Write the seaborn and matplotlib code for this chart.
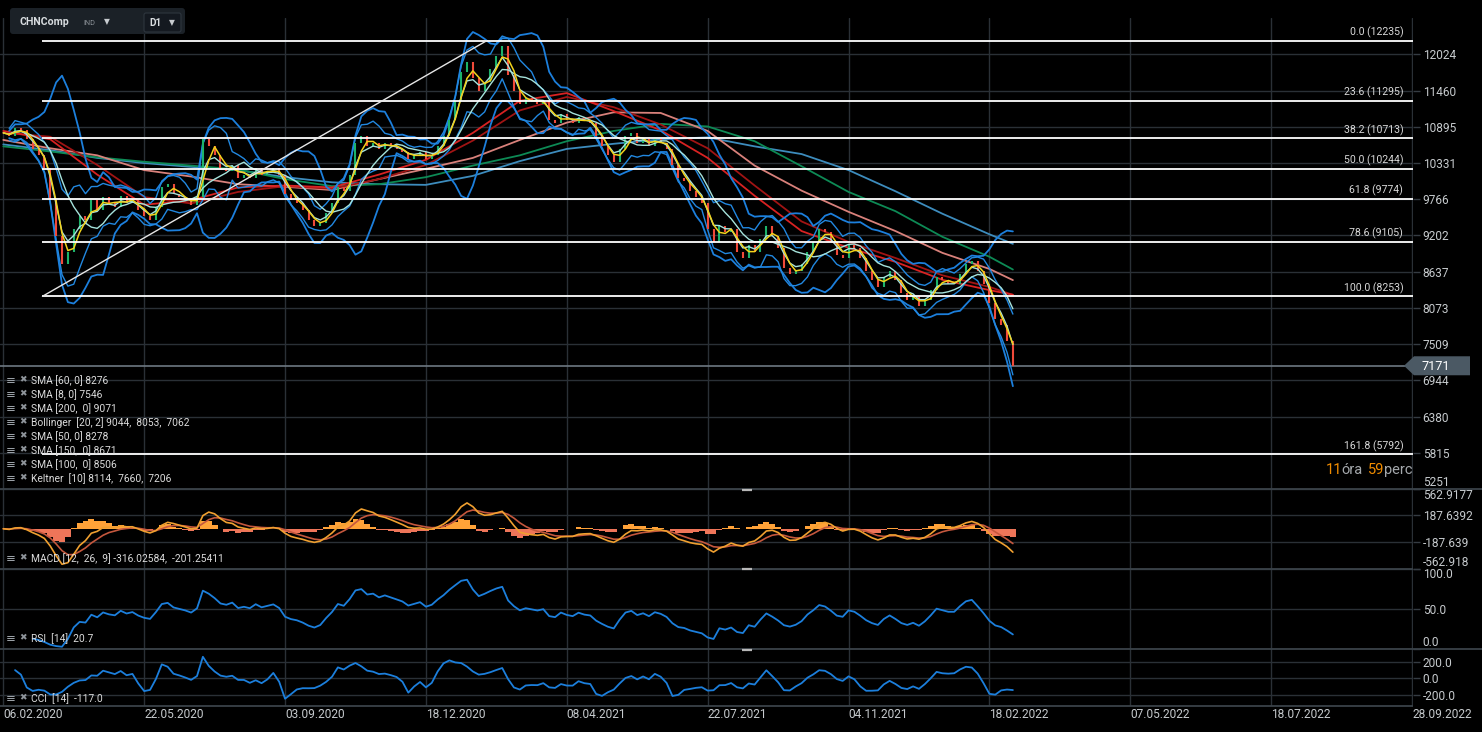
import numpy as np
import pandas as pd
import matplotlib.pyplot as plt
from matplotlib.patches import FancyBboxPatch, Polygon
import seaborn as sns

W, H = 1482, 732

# ============================================================
# DATA
# ============================================================

STEP = 3  # one close every 3 trading days

CLOSE = [
    10800, 10750, 10880, 10850, 10700, 10550, 10450, 10250, 9750, 9200,
    8750, 8950, 9300, 9500, 9450, 9750, 9600, 9800, 9700, 9650,
    9820, 9700, 9750, 9600, 9500, 9450, 9650, 9950, 10000, 9850,
    9800, 9750, 9680, 9800, 10700, 10600, 10450, 10250, 10200, 10300,
    10100, 10150, 10100, 10250, 10150, 10200, 10250, 10150, 9850, 9750,
    9700, 9600, 9450, 9350, 9400, 9550, 9700, 9950, 9900, 10150,
    10650, 10750, 10600, 10650, 10550, 10650, 10600, 10550, 10500, 10400,
    10450, 10500, 10400, 10450, 10600, 10750, 11000, 11300, 11750, 11900,
    11650, 11450, 11600, 11800, 12000, 12150, 11700, 11450, 11250, 11350,
    11300, 11250, 11300, 11000, 10950, 11100, 11000, 10950, 11050, 10980,
    10950, 10750, 10600, 10450, 10350, 10550, 10750, 10800, 10650, 10700,
    10600, 10700, 10650, 10550, 10300, 10100, 10050, 9900, 9800, 9700,
    9300, 9100, 9350, 9250, 9300, 8950, 8850, 9050, 8950, 9150,
    9350, 9200, 9000, 8700, 8600, 8650, 8750, 8950, 9100, 9300,
    9250, 9100, 8900, 8850, 9050, 9000, 8850, 8650, 8500, 8400,
    8550, 8650, 8500, 8300, 8200, 8250, 8100, 8200, 8350, 8550,
    8500, 8450, 8450, 8600, 8750, 8800, 8650, 8450, 8150, 7900,
    7800, 7550, 7171,
]

SMA_BARS = list(range(0, 505, 24)) + [516]
SMA50 = [10830, 10700, 10150, 9680, 9750, 9950, 9980, 9950, 10150, 10380, 10800, 11300,
         11420, 11140, 10840, 10410, 9820, 9270, 9010, 8790, 8510, 8350, 8278]
SMA60 = [10800, 10740, 10300, 9800, 9700, 9880, 9970, 9930, 10080, 10300, 10680, 11150,
         11360, 11200, 10930, 10560, 9980, 9420, 9100, 8850, 8580, 8400, 8276]
SMA100 = [10690, 10560, 10450, 10220, 10120, 10000, 9960, 9910, 10080, 10240, 10410, 10690,
          10960, 11120, 11110, 10830, 10290, 9900, 9570, 9270, 8930, 8680, 8506]
SMA150 = [10590, 10510, 10420, 10350, 10290, 10230, 10080, 9970, 10000, 10110, 10290, 10450,
          10670, 10830, 10940, 10900, 10670, 10280, 9880, 9580, 9180, 8870, 8671]
SMA200 = [10620, 10530, 10410, 10330, 10270, 10220, 10110, 10030, 10000, 9990, 10130, 10360,
          10550, 10630, 10700, 10730, 10590, 10470, 10220, 9890, 9540, 9220, 9071]

FIB_LEVELS = ["0.0", "23.6", "38.2", "50.0", "61.8", "78.6", "100.0", "161.8"]
FIB_VALUES = [12235, 11295, 10713, 10244, 9774, 9105, 8253, 5792]
FIB_BARS = [20, 247]

PRICE_TICKS = [5251, 5815, 6380, 6944, 7509, 8073, 8637, 9202, 9766, 10331, 10895, 11460, 12024]
MACD_TICKS = [-562.918, -187.639, 187.6392, 562.9177]
MACD_LABELS = ["-562.918", "-187.639", "187.6392", "562.9177"]
RSI_TICKS = [0, 50, 100]
CCI_TICKS = [-200, 0, 200]

DATE_STEP = 72
DATE_LABELS = ["06.02.2020", "22.05.2020", "03.09.2020", "18.12.2020", "08.04.2021",
               "22.07.2021", "04.11.2021", "18.02.2022", "07.05.2022", "18.07.2022",
               "28.09.2022"]

LEGEND_ROWS = [
    "SMA [60, 0] 8276",
    "SMA [8, 0] 7546",
    "SMA [200,  0] 9071",
    "Bollinger  [20, 2] 9044,  8053,  7062",
    "SMA [50, 0] 8278",
    "SMA [150,  0] 8671",
    "SMA [100,  0] 8506",
    "Keltner  [10] 8114,  7660,  7206",
]
MACD_TEXT = "MACD [12,  26,  9] -316.02584,  -201.25411"
RSI_TEXT = "RSI  [14]  20.7"
CCI_TEXT = "CCI  [14]  -117.0"

# ============================================================
# INDICATORS (from the sampled closes)
# ============================================================

bars = np.arange(len(CLOSE)) * STEP
close = pd.Series(CLOSE, dtype=float)

sma8 = close.rolling(3, min_periods=1).mean()
bb_mid = close.rolling(8, min_periods=2).mean()
bb_sd = close.rolling(8, min_periods=2).std(ddof=0)
# sampled closes miss the daily noise, so the bands get a wider factor
bb_up, bb_lo = bb_mid + 2.3 * bb_sd, bb_mid - 2.3 * bb_sd
kel_mid = close.ewm(span=10 / STEP, adjust=False).mean()
rng = close.diff().abs().rolling(5, min_periods=1).mean()
kel_up, kel_lo = kel_mid + 1.85 * rng, kel_mid - 1.85 * rng

fast = close.ewm(span=12 / STEP, adjust=False).mean()
slow = close.ewm(span=26 / STEP, adjust=False).mean()
macd = fast - slow
signal = macd.ewm(span=5, adjust=False).mean()
hist = macd - signal

delta = close.diff()
gain = delta.clip(lower=0).ewm(alpha=0.1, adjust=False, min_periods=5).mean()
loss = (-delta.clip(upper=0)).ewm(alpha=0.1, adjust=False, min_periods=5).mean()
rsi = 100 - 100 / (1 + gain / loss)

cci_mean = close.rolling(10, min_periods=3).mean()
cci_mad = close.rolling(10, min_periods=3).apply(lambda w: np.abs(w - w.mean()).mean(), raw=True)
cci = (close - cci_mean) / (0.015 * cci_mad)

# ============================================================
# STYLE
# ============================================================

sns.set_theme(style="dark", rc={
    "figure.facecolor": "black", "axes.facecolor": "black",
    "axes.edgecolor": "black", "grid.color": "#2a3036",
})
plt.rcParams["font.family"] = ["Roboto", "DejaVu Sans"]

GRID = "#2a3036"
TXT = "#c6cacd"
UP, DOWN = "#1db36a", "#f04a3a"
BLUE = "#1c7fdc"
PALE = "#a6e3dc"

fig = plt.figure(figsize=(W / 100, H / 100), dpi=100)


def panel(y0, y1):
    return fig.add_axes([0, 1 - y1 / H, 1413 / W, (y1 - y0) / H])


ax = panel(18, 489)
ax_macd = panel(489, 568.5)
ax_rsi = panel(568.5, 649)
ax_cci = panel(649, 706)


def line(a, x, y, color, lw, z=3):
    sns.lineplot(x=np.asarray(x), y=np.asarray(y, dtype=float), ax=a, color=color,
                 linewidth=lw, estimator=None, sort=False, legend=False, zorder=z)


# ============================================================
# MAIN PANEL
# ============================================================

c = np.asarray(CLOSE, dtype=float)
opens = np.r_[c[0], c[:-1]]
up = c >= opens

line(ax, SMA_BARS, SMA200, "#3d8cbd", 1.3)
line(ax, SMA_BARS, SMA150, "#0d8a55", 1.3)
line(ax, SMA_BARS, SMA100, "#d9817b", 1.3)
line(ax, SMA_BARS, SMA60, "#a01414", 1.3)
line(ax, SMA_BARS, SMA50, "#d82222", 1.3)
for s in (bb_up, bb_lo):
    line(ax, bars, s, BLUE, 1.3)
for s in (kel_up, kel_lo):
    line(ax, bars, s, "#2288e0", 1.0)

ax.vlines(bars[up], opens[up], c[up], color=UP, lw=1.5, zorder=3.5)
ax.vlines(bars[~up], opens[~up], c[~up], color=DOWN, lw=1.5, zorder=3.5)

line(ax, bars, bb_mid, PALE, 1.0, z=4)
line(ax, bars, kel_mid, PALE, 1.0, z=4)
line(ax, bars, sma8, "#f2d21b", 1.1, z=4)

XMAX = 720.5
ax.hlines(FIB_VALUES, FIB_BARS[0], XMAX, color="white", lw=1.3, zorder=5)
ax.plot(FIB_BARS, [FIB_VALUES[6], FIB_VALUES[0]], color="#e6e6e6", lw=1.0, zorder=5)
for lvl, val in zip(FIB_LEVELS, FIB_VALUES):
    ax.annotate(f"{lvl} ({val})", xy=(1.0, val), xycoords=("axes fraction", "data"),
                xytext=(-7, 2), textcoords="offset points", ha="right", va="bottom",
                fontsize=7.6, color="#d8d8d8", zorder=6)
ax.axhline(CLOSE[-1], color="#6d7881", lw=1.2, zorder=1)

ax.set_ylim(5251, 12590)
ax.set_yticks(PRICE_TICKS)
ax.set_yticklabels([str(v) for v in PRICE_TICKS])

# ============================================================
# MACD / RSI / CCI
# ============================================================

ax_macd.bar(bars, hist, width=STEP, color=np.where(hist >= 0, "#ffa238", "#ee7559"),
            linewidth=0, zorder=2)
line(ax_macd, bars, signal, "#c4573d", 1.2)
line(ax_macd, bars, macd, "#f0a030", 1.2)
ax_macd.set_ylim(MACD_TICKS[0], MACD_TICKS[-1])
ax_macd.set_yticks(MACD_TICKS)
ax_macd.set_yticklabels(MACD_LABELS)

line(ax_rsi, bars, rsi, BLUE, 1.3)
ax_rsi.set_ylim(0, 100)
ax_rsi.set_yticks(RSI_TICKS)
ax_rsi.set_yticklabels([f"{v:.1f}" for v in RSI_TICKS])

line(ax_cci, bars, cci, BLUE, 1.3)
ax_cci.set_ylim(-339, 358)
ax_cci.set_yticks(CCI_TICKS)
ax_cci.set_yticklabels([f"{v:.1f}" for v in CCI_TICKS])

for a in (ax, ax_macd, ax_rsi, ax_cci):
    a.set_xlim(-1.69, XMAX)
    a.set_xticks(np.arange(len(DATE_LABELS)) * DATE_STEP)
    a.set_xlabel("")
    a.set_ylabel("")
    a.grid(True, color=GRID, lw=1)
    a.set_axisbelow(True)
    for sp in a.spines.values():
        sp.set_visible(False)
    a.yaxis.tick_right()
    a.tick_params(axis="y", length=5, width=1, color="#353c43", pad=2,
                  labelsize=8.6, labelcolor=TXT)
    a.tick_params(axis="x", length=0, labelbottom=False)

ax_cci.tick_params(axis="x", labelbottom=True, labelsize=8.6, labelcolor=TXT, pad=1.5)
ax_cci.set_xticklabels(DATE_LABELS, ha="left")

ax.get_yticklabels()[0].set_va("bottom")
for a in (ax_macd, ax_rsi):
    labs = a.get_yticklabels()
    labs[0].set_va("bottom")
    labs[-1].set_va("top")

# ============================================================
# OVERLAY (header, legends, price tag, timer)
# ============================================================

ov = fig.add_axes([0, 0, 1, 1], zorder=10)
ov.set_xlim(0, W)
ov.set_ylim(H, 0)
ov.axis("off")
ov.patch.set_alpha(0)

ov.hlines([489, 568.5, 649], 0, 1413, color="#3a4249", lw=1.3)
ov.hlines([489, 649], 1413, 1482, color="#3a4249", lw=1.3)
ov.hlines(706, 0, 1413, color="#3a4249", lw=1.3)
ov.hlines([489.5, 569, 649.5], 742, 752, color="#b8b8b8", lw=1.6)

ov.add_patch(FancyBboxPatch((10, 8), 175, 26, boxstyle="round,pad=0,rounding_size=3",
                            fc="#1b2127", ec="none"))
ov.add_patch(FancyBboxPatch((144, 13), 37, 19, boxstyle="round,pad=0,rounding_size=2",
                            fc="#141920", ec="#2e363e", lw=0.8))
ov.text(20, 22, "CHNComp", fontsize=7.6, fontweight="bold", color="#d9dde0", va="center")
ov.text(83, 23.5, "IND", fontsize=5.2, color="#8a9096", va="center")
ov.text(107, 21.5, "▼", fontsize=5.5, color="#c8ccd0", va="center", ha="center")
ov.text(149, 22.5, "D1", fontsize=7.2, fontweight="bold", color="#d9dde0", va="center")
ov.text(172, 23, "▼", fontsize=5.5, color="#c8ccd0", va="center", ha="center")


def legend_row(y, text):
    ov.text(6, y, "≡", fontsize=8.5, color="#9aa0a6", va="center")
    ov.text(19, y - 1, "✖", fontsize=6.5, color="#8f959b", va="center")
    ov.text(31, y, text, fontsize=7.4, color="#dcdcdc", va="center")


for i, txt in enumerate(LEGEND_ROWS):
    legend_row(380.5 + 14 * i, txt)
legend_row(558.5, MACD_TEXT)
legend_row(638.3, RSI_TEXT)
legend_row(698.3, CCI_TEXT)

y_tag = H - ax.transData.transform((0, CLOSE[-1]))[1]
ov.add_patch(Polygon([(1404, y_tag), (1414, y_tag - 9.5), (1470, y_tag - 9.5),
                      (1470, y_tag + 9.5), (1414, y_tag + 9.5)], closed=True,
                     fc="#4b5964", ec="none"))
ov.text(1422, y_tag + 0.5, f"{CLOSE[-1]}", fontsize=9.2, color="white", va="center")

for x, s, col in [(1326, "11", "#f08c00"), (1341, "óra", "#a4a8ac"),
                  (1368, "59", "#f08c00"), (1384, "perc", "#a4a8ac")]:
    ov.text(x, 470, s, fontsize=10.5, color=col, va="center")

fig.savefig("out.png", dpi=100, facecolor="black")
